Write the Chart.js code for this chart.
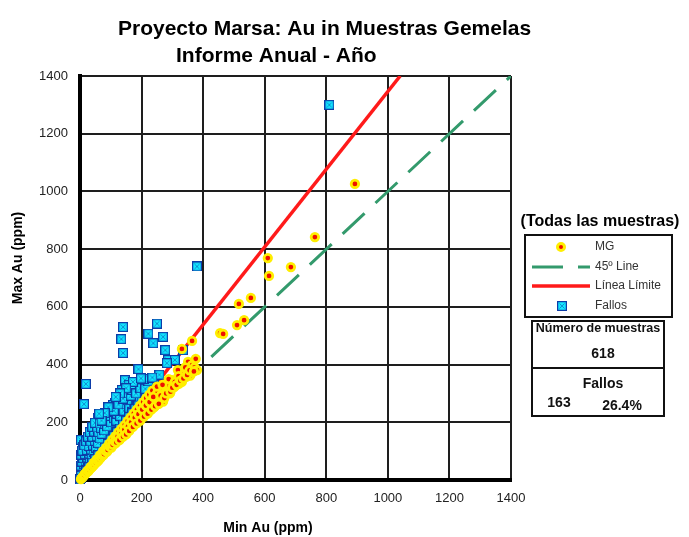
<!DOCTYPE html>
<html lang="es">
<head>
<meta charset="UTF-8">
<title>Proyecto Marsa: Au in Muestras Gemelas</title>
<script src="https://cdn.jsdelivr.net/npm/chart.js@4.4.0/dist/chart.umd.min.js"></script>
<style>
    html, body { margin: 0; padding: 0; background: #fff; }
    #wrap { position: relative; width: 689px; height: 537px; }
</style>
</head>
<body>
<div id="wrap"><canvas id="grafico" width="689" height="537"></canvas></div>
<script>
// Textos
const tituloLineas = ['Proyecto Marsa: Au in Muestras Gemelas', 'Informe Anual - Año'];
const tituloEjeX = 'Min Au (ppm)';
const tituloEjeY = 'Max Au (ppm)';
const valoresTicks = [0, 200, 400, 600, 800, 1000, 1200, 1400];

// Muestras gemelas que pasan (min, max)
const mgPuntos = [
    [3,3],[8,10],[12,14],[18,22],[22,27],[28,32],[33,40],[38,44],[44,52],[48,56],
    [55,63],[60,68],[66,76],[70,82],[76,86],[82,95],[88,98],[92,108],[98,112],[104,118],
    [108,128],[114,126],[120,138],[124,146],[130,142],[136,158],[142,156],[146,170],[152,166],[158,182],
    [162,176],[168,196],[174,190],[180,210],[186,200],[192,222],[198,214],[204,238],[210,226],[216,250],
    [222,238],[227,253],[234,262],[240,252],[246,282],[252,270],[260,312],[264,286],[270,272],[276,300],
    [286,312],[292,300],[299,346],[306,322],[312,338],[318,381],[322,334],[331,340],[331,454],[341,371],
    [346,358],[351,409],[358,362],[364,398],[364,374],[364,482],[372,390],[380,381],
    [15,20],[25,33],[35,46],[45,60],[55,72],[65,86],[75,100],[85,112],[95,126],[105,140],
    [115,152],[125,166],[135,178],[145,190],[155,205],[165,218],[175,232],[185,245],[195,258],[205,270],
    [215,284],[225,296],[235,310],[250,300],[280,330],
    [6,7],[10,12],[14,17],[20,24],[26,30],[30,36],[36,42],[42,48],[46,54],[52,60],
    [58,66],[62,72],[68,78],[72,86],[78,90],[84,100],[90,104],[96,116],[102,112],[106,122],
    [112,134],[118,130],[122,150],[128,138],[134,160],[140,150],[144,174],[150,158],[156,186],[160,170],
    [166,200],[172,184],[178,216],[184,196],[190,228],[196,206],[202,244],[208,220],[214,258],[220,230],
    [226,270],[232,244],[238,288],[244,256],[250,324],[256,264],[262,292],[268,330],[274,284],[280,300],
    [288,350],[294,306],[300,320],[308,340],[314,330],[320,360],[326,344],[336,352],[342,390],[348,364],
    [356,380],[370,376],[376,420],
    [455,509],[465,506],[510,537],[533,554],[516,610],[555,631],[610,769],[614,707],[685,738],[763,842],
    [893,1026]
];

// Muestras que fallan (min, max)
const fallosPuntos = [
    [810,1300],[380,740],[140,530],[134,488],[140,440],[250,542],[222,507],[270,496],[238,474],[277,450],
    [334,450],[286,416],[308,416],[282,405],[258,365],[190,384],[146,346],[158,330],[185,322],[136,312],
    [162,301],[205,300],[195,294],[123,284],[179,272],[205,277],[114,266],[153,255],[188,254],[19,333],
    [13,263],[97,243],[107,260],[58,215],[75,218],[3,139],[10,114],
    [0,2],[3,8],[6,15],[2,22],[9,26],[4,34],[12,32],[8,44],[16,40],[3,50],
    [12,55],[20,48],[6,64],[18,66],[26,58],[10,76],[24,78],[32,70],[4,88],[16,90],
    [30,92],[38,85],[8,102],[22,104],[36,106],[44,98],[14,120],[28,118],[42,120],[52,112],
    [20,134],[34,134],[48,136],[58,128],[26,150],[40,150],[54,152],[64,144],[32,166],[46,168],
    [60,166],[70,160],[40,184],[56,182],[68,180],[78,172],[48,198],[64,196],[80,194],[88,186],
    [86,208],[100,200],[96,222],[110,214],[118,206],[104,236],[120,230],[130,222],[128,248],[142,240],
    [146,262],[160,250],[168,236],[174,262],[186,278],[200,290],[215,300],[230,318],[240,330],[172,288],
    [153,277],[20,30],[30,44],[40,60],[50,72],[60,85],[70,98],[80,112],[90,125],[100,140],
    [110,152],[120,165],[130,178],[140,192],[150,205],[160,218],[170,232],[180,246],[190,258],[200,272],
    [220,300],[110,240],[125,262],[140,282],[150,300],[165,292],[170,312],[182,300],[196,318],[212,316],
    [222,342],[172,340],[150,318],[130,300],[116,288],[92,252],[80,232],[70,206],[62,230],[208,350],
    [235,355],[198,352]
];

// Lineas de referencia
const linea45 = [[0,0],[1400,1400]];
const lineaLimite = [[0,0],[1040,1400]];

// Leyenda y resumen
const leyendaTitulo = '(Todas las muestras)';
const leyendaNombres = ['MG', '45º Line', 'Línea Límite', 'Fallos'];
const numeroMuestras = 618;
const fallosTotal = 163;
const fallosPorcentaje = '26.4%';

document.addEventListener('DOMContentLoaded', function() {

    const fuente = "'Liberation Sans', Arial, sans-serif";
    const colorVerde = '#339a6c';
    const colorRojo = '#ff1a1a';
    const colorAmarillo = '#ffee00';
    const colorCentro = '#ee1100';

    const toXY = arr => arr.map(p => ({ x: p[0], y: p[1] }));

    // Marca cuadrada para los fallos
    function crearMarcaFallo() {
        const c = document.createElement('canvas');
        c.width = 10;
        c.height = 10;
        const g = c.getContext('2d');
        g.fillStyle = '#0c3ca8';
        g.fillRect(0, 0, 10, 10);
        g.fillStyle = '#12e6ff';
        g.fillRect(1.25, 1.25, 7.5, 7.5);
        g.strokeStyle = 'rgba(12, 60, 168, 0.5)';
        g.lineWidth = 1;
        g.beginPath();
        g.moveTo(2.5, 2.5); g.lineTo(7.5, 7.5);
        g.moveTo(7.5, 2.5); g.lineTo(2.5, 7.5);
        g.stroke();
        return c;
    }
    const marcaFallo = crearMarcaFallo();

    // Titulo, ejes, leyenda y cuadros de resumen
    const decoracion = {
        id: 'decoracion',
        afterDraw(chart) {
            const ctx = chart.ctx;
            ctx.save();
            ctx.fillStyle = '#000';
            ctx.textBaseline = 'alphabetic';
            ctx.textAlign = 'left';
            ctx.font = 'bold 21px ' + fuente;
            ctx.fillText(tituloLineas[0], 118, 35);
            ctx.fillText(tituloLineas[1], 176, 62);

            ctx.font = 'bold 14px ' + fuente;
            ctx.textAlign = 'center';
            ctx.textBaseline = 'middle';
            ctx.fillText(tituloEjeX, 268, 528);
            ctx.save();
            ctx.translate(18, 258);
            ctx.rotate(-Math.PI / 2);
            ctx.fillText(tituloEjeY, 0, 0);
            ctx.restore();

            // Leyenda
            ctx.font = 'bold 16px ' + fuente;
            ctx.fillText(leyendaTitulo, 600, 222);
            ctx.lineWidth = 2;
            ctx.strokeStyle = '#111';
            ctx.strokeRect(525, 235, 147, 82);

            const filas = [247, 267, 286, 306];
            ctx.beginPath();
            ctx.arc(561, filas[0], 3.5, 0, Math.PI * 2);
            ctx.fillStyle = colorCentro;
            ctx.fill();
            ctx.lineWidth = 3;
            ctx.strokeStyle = colorAmarillo;
            ctx.stroke();

            ctx.lineWidth = 3;
            ctx.strokeStyle = colorVerde;
            ctx.setLineDash([31, 15]);
            ctx.beginPath();
            ctx.moveTo(532, filas[1]);
            ctx.lineTo(590, filas[1]);
            ctx.stroke();
            ctx.setLineDash([]);

            ctx.strokeStyle = colorRojo;
            ctx.lineWidth = 3.5;
            ctx.beginPath();
            ctx.moveTo(532, filas[2]);
            ctx.lineTo(590, filas[2]);
            ctx.stroke();

            ctx.drawImage(marcaFallo, 557, filas[3] - 5);

            ctx.fillStyle = '#333';
            ctx.textAlign = 'left';
            ctx.font = '12px ' + fuente;
            leyendaNombres.forEach((nombre, i) => {
                ctx.fillText(nombre, 595, filas[i]);
            });

            // Cuadros de resumen
            ctx.lineWidth = 2;
            ctx.strokeStyle = '#111';
            ctx.strokeRect(532, 321, 132, 47);
            ctx.strokeRect(532, 368, 132, 48);
            ctx.fillStyle = '#111';
            ctx.textAlign = 'center';
            ctx.font = 'bold 12.5px ' + fuente;
            ctx.fillText('Número de muestras', 598, 329);
            ctx.font = 'bold 14px ' + fuente;
            ctx.fillText(String(numeroMuestras), 603, 354);
            ctx.fillText('Fallos', 603, 384);
            ctx.fillText(String(fallosTotal), 559, 403);
            ctx.fillText(fallosPorcentaje, 622, 406);
            ctx.restore();
        }
    };

    const escala = (lado) => ({
        type: 'linear',
        min: 0,
        max: 1400,
        afterBuildTicks: s => { s.ticks = valoresTicks.map(v => ({ value: v })); },
        afterFit: s => {
            if (lado === 'x') s.height = 57; else s.width = 80;
        },
        ticks: {
            color: '#222',
            font: { family: fuente, size: 13 },
            padding: lado === 'x' ? 11 : 12,
            maxRotation: 0,
            callback: v => String(v)
        },
        grid: { color: '#1e1e1e', lineWidth: 2, drawTicks: false },
        border: { display: true, color: '#000', width: 4 }
    });

    new Chart(document.getElementById('grafico'), {
        type: 'scatter',
        data: {
            datasets: [
                {
                    label: leyendaNombres[0],
                    data: toXY(mgPuntos),
                    pointStyle: 'circle',
                    pointRadius: 3.75,
                    borderWidth: 2.75,
                    backgroundColor: colorCentro,
                    borderColor: colorAmarillo,
                    clip: false,
                    order: 0
                },
                {
                    label: leyendaNombres[3],
                    data: toXY(fallosPuntos),
                    pointStyle: marcaFallo,
                    pointRadius: 5,
                    clip: false,
                    order: 1
                },
                {
                    label: leyendaNombres[2],
                    type: 'line',
                    data: toXY(lineaLimite),
                    borderColor: colorRojo,
                    borderWidth: 3.5,
                    pointRadius: 0,
                    order: 2
                },
                {
                    label: leyendaNombres[1],
                    type: 'line',
                    data: toXY(linea45),
                    borderColor: colorVerde,
                    borderWidth: 3,
                    borderDash: [30, 15],
                    pointRadius: 0,
                    order: 3
                }
            ]
        },
        options: {
            responsive: false,
            animation: false,
            events: [],
            layout: { padding: { top: 76, right: 178, left: 0, bottom: 0 } },
            plugins: {
                legend: { display: false },
                tooltip: { enabled: false },
                title: { display: false }
            },
            scales: {
                x: escala('x'),
                y: escala('y')
            }
        },
        plugins: [decoracion]
    });
});
</script>
</body>
</html>
